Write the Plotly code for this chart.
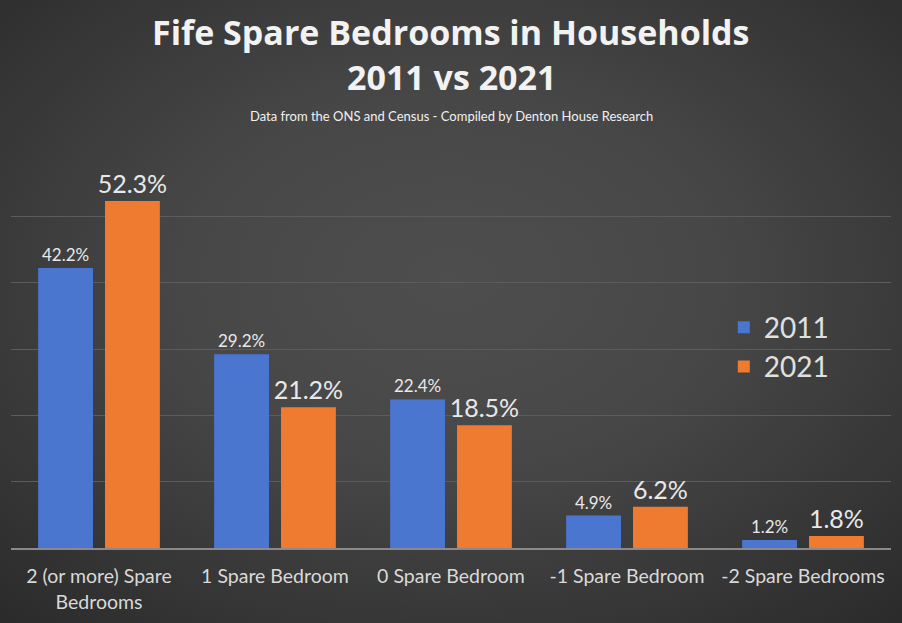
import base64
import plotly.graph_objects as go

categories = ["2 (or more) Spare<br>Bedrooms", "1 Spare Bedroom", "0 Spare Bedroom",
              "-1 Spare Bedroom", "-2 Spare Bedrooms"]
values_2011 = [42.2, 29.2, 22.4, 4.9, 1.2]
values_2021 = [52.3, 21.2, 18.5, 6.2, 1.8]

FONT = "Lato"

# dark radial background like the Excel chart style
svg = """<svg xmlns='http://www.w3.org/2000/svg' width='902' height='623'>
<defs><radialGradient id='g' cx='50%' cy='45%' r='75%'>
<stop offset='0%' stop-color='#4e4e4e'/><stop offset='40%' stop-color='#474747'/>
<stop offset='100%' stop-color='#2a2a2a'/>
</radialGradient></defs><rect width='902' height='623' fill='url(#g)'/></svg>"""
bg = "data:image/svg+xml;base64," + base64.b64encode(svg.encode()).decode()

fig = go.Figure()
fig.add_trace(go.Bar(x=categories, y=values_2011, name="2011",
                     marker=dict(color="#4a76d0", line=dict(width=0)),
                     text=[f"{v:.1f}%" for v in values_2011], textposition="outside",
                     constraintext="none",
                     textfont=dict(size=17, color="#e8e8e8", family=FONT), cliponaxis=False))
fig.add_trace(go.Bar(x=categories, y=values_2021, name="2021",
                     marker=dict(color="#ef7b31", line=dict(width=0)),
                     text=[f"{v:.1f}%" for v in values_2021], textposition="outside",
                     constraintext="none",
                     textfont=dict(size=25, color="#e8e8e8", family=FONT), cliponaxis=False))

fig.update_layout(
    width=902, height=623,
    margin=dict(l=11, r=11, t=150, b=75),
    paper_bgcolor="#3a3a3a", plot_bgcolor="rgba(0,0,0,0)",
    font=dict(family=FONT, color="#d9d9d9"),
    barmode="group", bargap=0.24, bargroupgap=0.18,
    showlegend=True,
    legend=dict(x=0.81, y=0.617, xanchor="left", yanchor="top",
                font=dict(size=28, color="#e0e0e0", family=FONT),
                bgcolor="rgba(0,0,0,0)", itemsizing="constant"),
    images=[dict(source=bg, xref="paper", yref="paper", x=-11/880, y=1 + 150/398,
                 sizex=902/880, sizey=623/398, xanchor="left", yanchor="top",
                 sizing="stretch", layer="below")],
    annotations=[
        dict(text="<b>Fife Spare Bedrooms in Households</b>", xref="paper", yref="paper",
             x=0.5, y=1 + (150 - 32) / 398, showarrow=False, xanchor="center", yanchor="middle",
             font=dict(size=34, color="#f2f2f2", family="Open Sans")),
        dict(text="<b>2011 vs 2021</b>", xref="paper", yref="paper",
             x=0.5, y=1 + (150 - 77) / 398, showarrow=False, xanchor="center", yanchor="middle",
             font=dict(size=34, color="#f2f2f2", family="Open Sans")),
        dict(text="Data from the ONS and Census - Compiled by Denton House Research",
             xref="paper", yref="paper", x=0.5, y=1 + (150 - 116) / 398, showarrow=False,
             xanchor="center", yanchor="middle",
             font=dict(size=13, color="#f0f0f0", family=FONT)),
    ],
)
fig.update_xaxes(showline=True, linecolor="#8a8a8a", linewidth=1.5, ticks="",
                 ticklabelstandoff=10, automargin=False,
                 tickfont=dict(size=19.5, color="#d9d9d9", family=FONT), showgrid=False)
fig.update_yaxes(range=[0, 60], dtick=10, showticklabels=False, showgrid=True,
                 gridcolor="#5c5c5c", gridwidth=1, zeroline=False)

fig.write_html("out.html", config={"displayModeBar": False},
               post_script="document.body.style.margin='0';")
